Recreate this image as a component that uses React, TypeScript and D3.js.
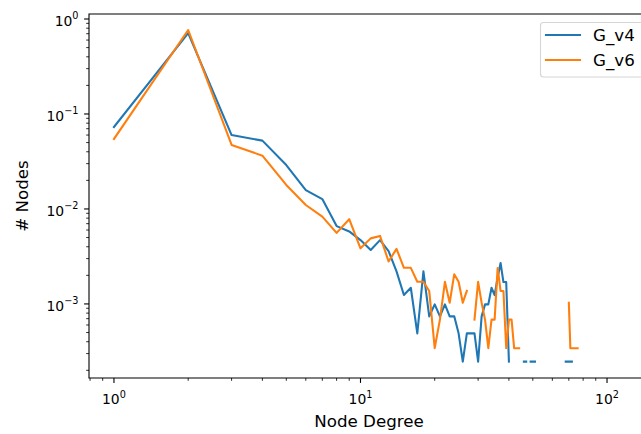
import * as React from 'react';
import * as d3 from 'd3';

// node degree (x) and share of nodes per degree (y); null = no node with that degree
const degrees = [
	1, 2, 3, 4, 5, 6, 7, 8, 9, 10, 11, 12, 13, 14, 15, 16, 17, 18, 19, 20,
	21, 22, 23, 24, 25, 26, 27, 28, 29, 30, 31, 32, 33, 34, 35, 36, 37, 38, 39, 40,
	41, 42, 43, 44, 45, 46, 47, 48, 49, 50, 51, 52, 53, 54, 55, 56, 57, 58, 59, 60,
	61, 62, 63, 64, 65, 66, 67, 68, 69, 70, 71, 72, 73, 74, 75, 76, 77,
];

const gV4 = [
	0.073, 0.71, 0.06, 0.0524, 0.029, 0.0158, 0.0127, 0.0066, 0.0058, 0.0047,
	0.0037, 0.0047, 0.0036, 0.0022, 0.00124, 0.00148, 0.00049, 0.0022, 0.00074, 0.00099,
	0.00074, 0.00099, 0.00074, 0.00074, 0.00049, 0.000247, 0.00049, 0.00049, 0.00049, 0.000247,
	0.00074, 0.00099, 0.00099, 0.00148, 0.00124, 0.0019, 0.0027, 0.0017, 0.0017, 0.000247,
	null, null, null, null, null, 0.000247, 0.000247, null, 0.000247, 0.000247,
	0.000247, null, null, null, null, null, null, null, null, null,
	null, null, null, null, null, null, null, 0.000247, 0.000247, 0.000247,
	0.000247, 0.000247, null, null, null, null, null,
];

const gV6 = [
	0.0546, 0.766, 0.0472, 0.0364, 0.0179, 0.011, 0.0083, 0.0056, 0.0078, 0.00385,
	0.0049, 0.0052, 0.0028, 0.0038, 0.0024, 0.0024, 0.00171, 0.00171, 0.00137, 0.000342,
	0.000684, 0.00171, 0.00103, 0.00205, 0.00171, 0.00103, 0.00137, null, 0.000684, 0.00171,
	0.00103, 0.000684, 0.000342, 0.000684, 0.000684, 0.00239, 0.00137, 0.00137, 0.000342, 0.000684,
	0.000684, 0.000342, 0.000342, 0.000342, null, null, null, null, null, null,
	null, null, null, null, null, null, null, null, null, null,
	null, null, null, null, null, null, null, null, null, 0.00103,
	0.000342, 0.000342, 0.000342, 0.000342, 0.000342, 0.000342, null,
];

const seriesNames = ['G_v4', 'G_v6'];
const seriesColors = ['#1f77b4', '#ff7f0e'];
const xLabel = 'Node Degree';
const yLabel = '# Nodes';

const W = 641;
const H = 434;
const left = 89;
const right = 649;
const top = 14;
const bottom = 378;
const font = 'DejaVu Sans';

const x = d3.scaleLog().domain([0.792, 148]).range([left, right]);
const y = d3.scaleLog().domain([0.000166, 1.129]).range([bottom, top]);

const isMajor = (v: number) => Math.abs(Math.log10(v) - Math.round(Math.log10(v))) < 1e-6;

const Pow = ({ v, ...rest }: any) => {
	const k = Math.round(Math.log10(v));
	const sup = k < 0 ? `\u2212${-k}` : `${k}`;
	return (
		<text fontFamily={font} fontSize={13.9} fill='#000' {...rest}>
			10
			<tspan fontSize={9.7} dy={-6.5}>
				{sup}
			</tspan>
		</text>
	);
};

export default function App() {
	const lineGen = d3
		.line<[number, number | null]>()
		.defined(d => d[1] != null)
		.x(d => x(d[0]))
		.y(d => y(d[1] as number));

	const series = [gV4, gV6].map(vals => degrees.map((d, i) => [d, vals[i]] as [number, number | null]));

	const xTicks = x.ticks().filter(t => t >= x.domain()[0] && t <= x.domain()[1]);
	const yTicks = y.ticks().filter(t => t >= y.domain()[0] && t <= y.domain()[1]);

	return (
		<svg
			width={W}
			height={H}
			viewBox={`0 0 ${W} ${H}`}
			style={{ position: 'absolute', left: 0, top: 0, background: '#fff' }}
		>
			<defs>
				<clipPath id='plotArea'>
					<rect x={left} y={top} width={right - left} height={bottom - top} />
				</clipPath>
			</defs>
			<rect width={W} height={H} fill='#fff' />

			<g clipPath='url(#plotArea)'>
				{series.map((s, i) => (
					<path
						key={seriesNames[i]}
						d={lineGen(s) || ''}
						fill='none'
						stroke={seriesColors[i]}
						strokeWidth={2.08}
						strokeLinecap='square'
						strokeLinejoin='round'
					/>
				))}
			</g>

			{/* x axis */}
			{xTicks.map(t => {
				const major = isMajor(t);
				return (
					<line
						key={'xt' + t}
						x1={x(t)}
						x2={x(t)}
						y1={bottom}
						y2={bottom + (major ? 4.9 : 2.8)}
						stroke='#000'
						strokeWidth={major ? 1.1 : 0.83}
					/>
				);
			})}
			{xTicks.filter(isMajor).map(t => (
				<Pow key={'xl' + t} v={t} x={x(t)} y={404} textAnchor='middle' />
			))}
			<text x={369} y={427} fontFamily={font} fontSize={16.7} textAnchor='middle'>
				{xLabel}
			</text>

			{/* y axis */}
			{yTicks.map(t => {
				const major = isMajor(t);
				return (
					<line
						key={'yt' + t}
						x1={left}
						x2={left - (major ? 4.9 : 2.8)}
						y1={y(t)}
						y2={y(t)}
						stroke='#000'
						strokeWidth={major ? 1.1 : 0.83}
					/>
				);
			})}
			{yTicks.filter(isMajor).map(t => (
				<Pow key={'yl' + t} v={t} x={78.5} y={y(t) + 6.8} textAnchor='end' />
			))}
			<text
				transform={`translate(28,${(top + bottom) / 2}) rotate(-90)`}
				fontFamily={font}
				fontSize={16.7}
				textAnchor='middle'
			>
				{yLabel}
			</text>

			{/* spines */}
			<path
				d={`M${left},${bottom}V${top}H${right}V${bottom}Z`}
				fill='none'
				stroke='#000'
				strokeWidth={1.1}
				strokeLinecap='square'
			/>

			{/* legend */}
			<g>
				<rect
					x={540.5}
					y={22.5}
					width={108}
					height={54.5}
					rx={3}
					fill='#fff'
					fillOpacity={0.8}
					stroke='#d6d6d6'
					strokeWidth={1.1}
				/>
				{seriesNames.map((name, i) => {
					const ly = 35 + i * 25;
					return (
						<g key={name}>
							<line
								x1={546}
								x2={580}
								y1={ly}
								y2={ly}
								stroke={seriesColors[i]}
								strokeWidth={2.08}
								strokeLinecap='square'
							/>
							<text x={593} y={ly + 6.2} fontFamily={font} fontSize={16.7}>
								{name}
							</text>
						</g>
					);
				})}
			</g>
		</svg>
	);
}
